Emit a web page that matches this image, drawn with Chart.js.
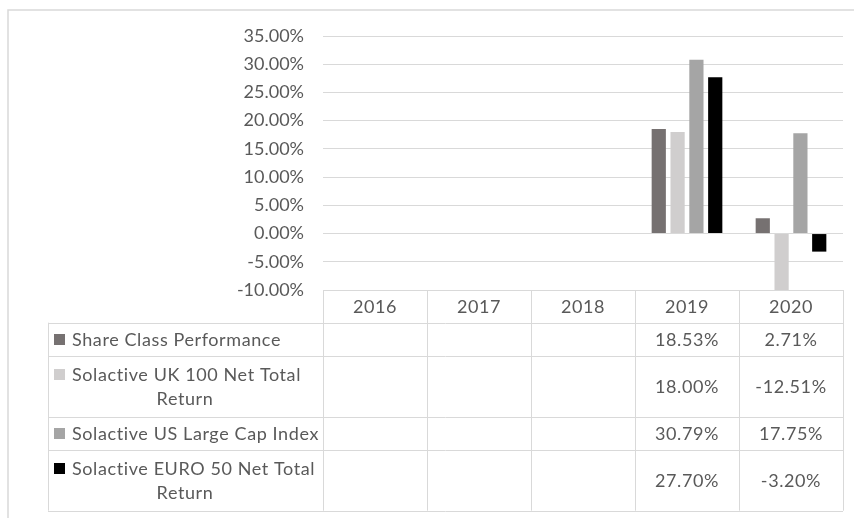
<!DOCTYPE html>
<html>
<head>
<meta charset="utf-8">
<title>Share Class Performance</title>
<script src="https://cdn.jsdelivr.net/npm/chart.js@4.4.1/dist/chart.umd.min.js"></script>
<style>
    html, body { margin: 0; padding: 0; background: #fff; }
    #wrap { width: 854px; height: 518px; position: relative; }
</style>
</head>
<body>
<div id="wrap"><canvas id="perfChart"></canvas></div>
<script>
(function () {
    'use strict';

    // Calendar years shown along the category axis / data table header
    const years = ['2016', '2017', '2018', '2019', '2020'];

    // Series names (\n marks where the data table wraps the label)
    const seriesNames = [
        'Share Class Performance',
        'Solactive UK 100 Net Total\nReturn',
        'Solactive US Large Cap Index',
        'Solactive EURO 50 Net Total\nReturn'
    ];

    // Annual returns in %
    const shareClass = [null, null, null, 18.53, 2.71];
    const ukIndex = [null, null, null, 18.00, -12.51];
    const usIndex = [null, null, null, 30.79, 17.75];
    const euroIndex = [null, null, null, 27.70, -3.20];

    const seriesColors = ['#767171', '#d0cece', '#a5a5a5', '#000000'];

    const TEXT = '#595959';
    const LINE = '#d9d9d9';
    const FONT = '18px Lato, "Open Sans", sans-serif';

    const allSeries = [shareClass, ukIndex, usIndex, euroIndex];

    const datasets = allSeries.map((values, i) => ({
        label: seriesNames[i].replace('\n', ' '),
        data: values,
        backgroundColor: seriesColors[i],
        borderWidth: 0,
        categoryPercentage: 0.724,
        barPercentage: 0.755
    }));

    // Frame around the whole chart object, like the spreadsheet chart border
    const framePlugin = {
        id: 'frame',
        beforeDraw(c) {
            const ctx = c.ctx;
            ctx.save();
            ctx.strokeStyle = LINE;
            ctx.lineWidth = 1.5;
            ctx.beginPath();
            ctx.moveTo(8, c.height + 5);
            ctx.lineTo(8, 10);
            ctx.lineTo(c.width + 5, 10);
            ctx.stroke();
            ctx.restore();
        }
    };

    // Data table under the plot, columns lined up with the category scale
    const tablePlugin = {
        id: 'dataTable',
        afterDraw(c) {
            const ctx = c.ctx;
            const xs = c.scales.x;
            const area = c.chartArea;
            const colW = xs.getPixelForValue(1) - xs.getPixelForValue(0);
            const tableLeft = 48;
            const headTop = area.bottom;
            const headH = 32.7;
            const lineH = 24;

            const rowH = seriesNames.map(n => n.split('\n').length === 1 ? 33.3 : 60.7);
            const rowTop = [];
            let y = headTop + headH;
            rowH.forEach(h => { rowTop.push(y); y += h; });
            const bottom = y;

            ctx.save();
            ctx.strokeStyle = LINE;
            ctx.lineWidth = 1;

            // horizontal lines
            ctx.beginPath();
            ctx.moveTo(area.left, headTop + 0.5);
            ctx.lineTo(area.right, headTop + 0.5);
            rowTop.concat([bottom]).forEach(ry => {
                ctx.moveTo(tableLeft, Math.round(ry) + 0.5);
                ctx.lineTo(area.right, Math.round(ry) + 0.5);
            });
            // vertical lines
            ctx.moveTo(tableLeft + 0.5, headTop + headH);
            ctx.lineTo(tableLeft + 0.5, bottom);
            for (let i = 0; i <= years.length; i++) {
                const vx = Math.round(xs.getPixelForValue(0) - colW / 2 + i * colW) + 0.5;
                ctx.moveTo(vx, headTop);
                ctx.lineTo(vx, bottom);
            }
            ctx.stroke();

            ctx.font = FONT;
            ctx.letterSpacing = '0.6px';
            ctx.fillStyle = TEXT;
            ctx.textBaseline = 'middle';

            // header years
            ctx.textAlign = 'center';
            years.forEach((yr, i) => {
                ctx.fillText(yr, xs.getPixelForValue(i), headTop + headH / 2 + 1);
            });

            // rows
            seriesNames.forEach((name, s) => {
                const lines = name.split('\n');
                const cy = rowTop[s] + rowH[s] / 2;
                const firstY = cy - (lines.length - 1) * lineH / 2;

                ctx.fillStyle = seriesColors[s];
                ctx.fillRect(54, Math.round(firstY - 5), 11, 11);

                ctx.fillStyle = TEXT;
                lines.forEach((ln, k) => {
                    if (k === 0) {
                        ctx.textAlign = 'left';
                        ctx.fillText(ln, 72, firstY + 1);
                    } else {
                        ctx.textAlign = 'center';
                        ctx.fillText(ln, 185, firstY + k * lineH + 1);
                    }
                });

                ctx.textAlign = 'center';
                allSeries[s].forEach((v, i) => {
                    if (v === null) return;
                    ctx.fillText(v.toFixed(2) + '%', xs.getPixelForValue(i), cy + 1);
                });
            });
            ctx.restore();
        }
    };

    function buildChart() {
        const ctx = document.getElementById('perfChart').getContext('2d');
        new Chart(ctx, {
            type: 'bar',
            data: { labels: years, datasets },
            options: {
                responsive: true,
                maintainAspectRatio: false,
                animation: false,
                layout: { padding: { top: 36, right: 11, bottom: 228, left: 0 } },
                plugins: {
                    legend: { display: false },
                    tooltip: { enabled: false }
                },
                scales: {
                    x: {
                        display: false
                    },
                    y: {
                        min: -10,
                        max: 35,
                        ticks: {
                            stepSize: 5,
                            padding: 19,
                            color: TEXT,
                            font: { family: 'Lato, "Open Sans", sans-serif', size: 18 },
                            callback: (v) => v.toFixed(2) + '%'
                        },
                        grid: { color: LINE, lineWidth: 1, drawTicks: false },
                        border: { display: false },
                        afterFit(scale) { scale.width = 323; }
                    }
                }
            },
            plugins: [framePlugin, tablePlugin]
        });
    }

    if (document.readyState === 'loading') {
        document.addEventListener('DOMContentLoaded', buildChart);
    } else {
        buildChart();
    }
})();
</script>
</body>
</html>
